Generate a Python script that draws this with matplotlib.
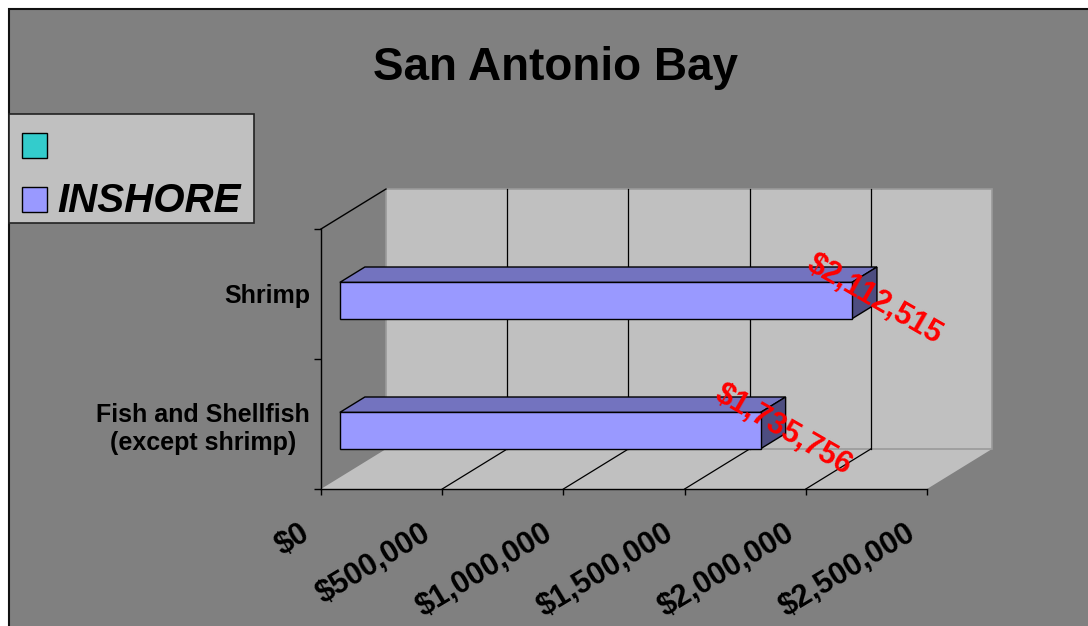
import matplotlib.pyplot as plt
import matplotlib.transforms as mtransforms
from matplotlib.patches import Polygon, Rectangle

plt.rcParams['font.family'] = ['Liberation Sans', 'DejaVu Sans']

# data
categories = ["Fish and Shellfish\n(except shrimp)", "Shrimp"]
inshore = [1735756, 2112515]
series_names = ["", "INSHORE"]
series_colors = ["#33cccc", "#9999ff"]
x_ticks = [0, 500000, 1000000, 1500000, 2000000, 2500000]
x_ticklabels = ["$0", "$500,000", "$1,000,000", "$1,500,000", "$2,000,000", "$2,500,000"]

W, H = 1088, 626
fig = plt.figure(figsize=(W / 100, H / 100), dpi=100, facecolor="white")
# pixel coords measured from the top-left corner
fig_px = mtransforms.Affine2D().scale(1 / W, -1 / H).translate(0, 1) + fig.transFigure

# grey chart area with a dark frame
fig.patches.append(Rectangle((9, 9), W, H, transform=fig_px, facecolor="#808080",
                             edgecolor="#111111", lw=1.5, zorder=-10))

XMAX, YMAX = x_ticks[-1], len(categories)
ax = fig.add_axes([321 / W, (H - 489) / H, 606 / W, 260 / H])
ax.set_zorder(1)
ax.set_xlim(0, XMAX)
ax.set_ylim(0, YMAX)
ax.patch.set_visible(False)

# oblique depth offset (full depth of the plot box)
DX = XMAX * 65 / 606
DY = YMAX * 40 / 260


def proj(x, y, t):
    return (x + t * DX, y + t * DY)


# floor, back wall, side wall
floor = Polygon([proj(0, 0, 0), proj(XMAX, 0, 0), proj(XMAX, 0, 1), proj(0, 0, 1)],
                facecolor="#c0c0c0", edgecolor="none", clip_on=False, zorder=1)
wall = Polygon([proj(0, 0, 1), proj(XMAX, 0, 1), proj(XMAX, YMAX, 1), proj(0, YMAX, 1)],
               facecolor="#c0c0c0", edgecolor="#9a9a9a", lw=1.2, clip_on=False, zorder=1)
ax.add_patch(floor)
ax.add_patch(wall)
ax.plot(*zip(proj(0, YMAX, 0), proj(0, YMAX, 1)), color="black", lw=1, clip_on=False, zorder=2)

# gridlines on the back wall and the floor
for v in x_ticks[1:-1]:
    ax.plot(*zip(proj(v, 0, 1), proj(v, YMAX, 1)), color="black", lw=0.9, clip_on=False, zorder=2)
    ax.plot(*zip(proj(v, 0, 0), proj(v, 0, 1)), color="black", lw=0.9, clip_on=False, zorder=2)

# 3D bars
BAR_H = 0.28
T0, T1 = 0.29, 0.675
positions = [i + 0.5 for i in range(len(categories))]
for c, v in zip(positions, inshore):
    top = Polygon([proj(0, c, T0), proj(v, c, T0), proj(v, c, T1), proj(0, c, T1)],
                  facecolor="#7373bf", edgecolor="black", lw=1, clip_on=False, zorder=3)
    side = Polygon([proj(v, c - BAR_H, T0), proj(v, c - BAR_H, T1), proj(v, c, T1), proj(v, c, T0)],
                   facecolor="#4d4d80", edgecolor="black", lw=1, clip_on=False, zorder=3)
    front = Rectangle(proj(0, c - BAR_H, T0), v, BAR_H,
                      facecolor="#9999ff", edgecolor="black", lw=1, clip_on=False, zorder=4)
    ax.add_patch(top)
    ax.add_patch(side)
    ax.add_patch(front)
    ax.annotate(f"${v:,}", xy=proj(v, c - BAR_H / 2, (T0 + T1) / 2), xytext=(7, -5),
                textcoords="offset points", ha="center", va="center", rotation=-30,
                color="red", fontsize=22, fontweight="bold", annotation_clip=False, zorder=10)

# axes lines and ticks
for s in ["top", "right"]:
    ax.spines[s].set_visible(False)
for s in ["left", "bottom"]:
    ax.spines[s].set_color("black")
    ax.spines[s].set_linewidth(1)
    ax.spines[s].set_zorder(5)

ax.set_xticks(x_ticks, x_ticklabels)
ax.tick_params(axis="x", direction="out", length=4, width=1, pad=17.0, labelsize=22)
shift = mtransforms.ScaledTranslation(-15.5 / 72, 0, fig.dpi_scale_trans)
for lbl in ax.get_xticklabels():
    lbl.set_rotation(31)
    lbl.set_rotation_mode("anchor")
    lbl.set_ha("right")
    lbl.set_va("top")
    lbl.set_fontweight("bold")
    lbl.set_transform(lbl.get_transform() + shift)

ax.set_yticks(positions, categories)
ax.set_yticks(range(YMAX + 1), minor=True)
ax.tick_params(axis="y", which="major", length=0, pad=7.9, labelsize=18)
ax.tick_params(axis="y", which="minor", direction="out", length=5, width=1)
for lbl in ax.get_yticklabels():
    lbl.set_fontweight("bold")
    lbl.set_multialignment("center")
    lbl.set_linespacing(1.25)

# title
fig.text(555.5, 80, "San Antonio Bay", transform=fig_px, ha="center", va="baseline",
         fontsize=33, fontweight="bold")

# legend box
fig.patches.append(Rectangle((9, 114), 245, 109, transform=fig_px, facecolor="#c0c0c0",
                             edgecolor="#222222", lw=1.2, zorder=2))
for i, (name, col) in enumerate(zip(series_names, series_colors)):
    y0 = 133 + i * 54
    fig.patches.append(Rectangle((22, y0), 25, 25, transform=fig_px, facecolor=col,
                                 edgecolor="black", lw=1, zorder=3))
    fig.text(57, y0 + 25, name, transform=fig_px, ha="left", va="baseline",
             fontsize=29, fontweight="bold", fontstyle="italic")

fig.savefig("out.png", dpi=100, facecolor=fig.get_facecolor())
